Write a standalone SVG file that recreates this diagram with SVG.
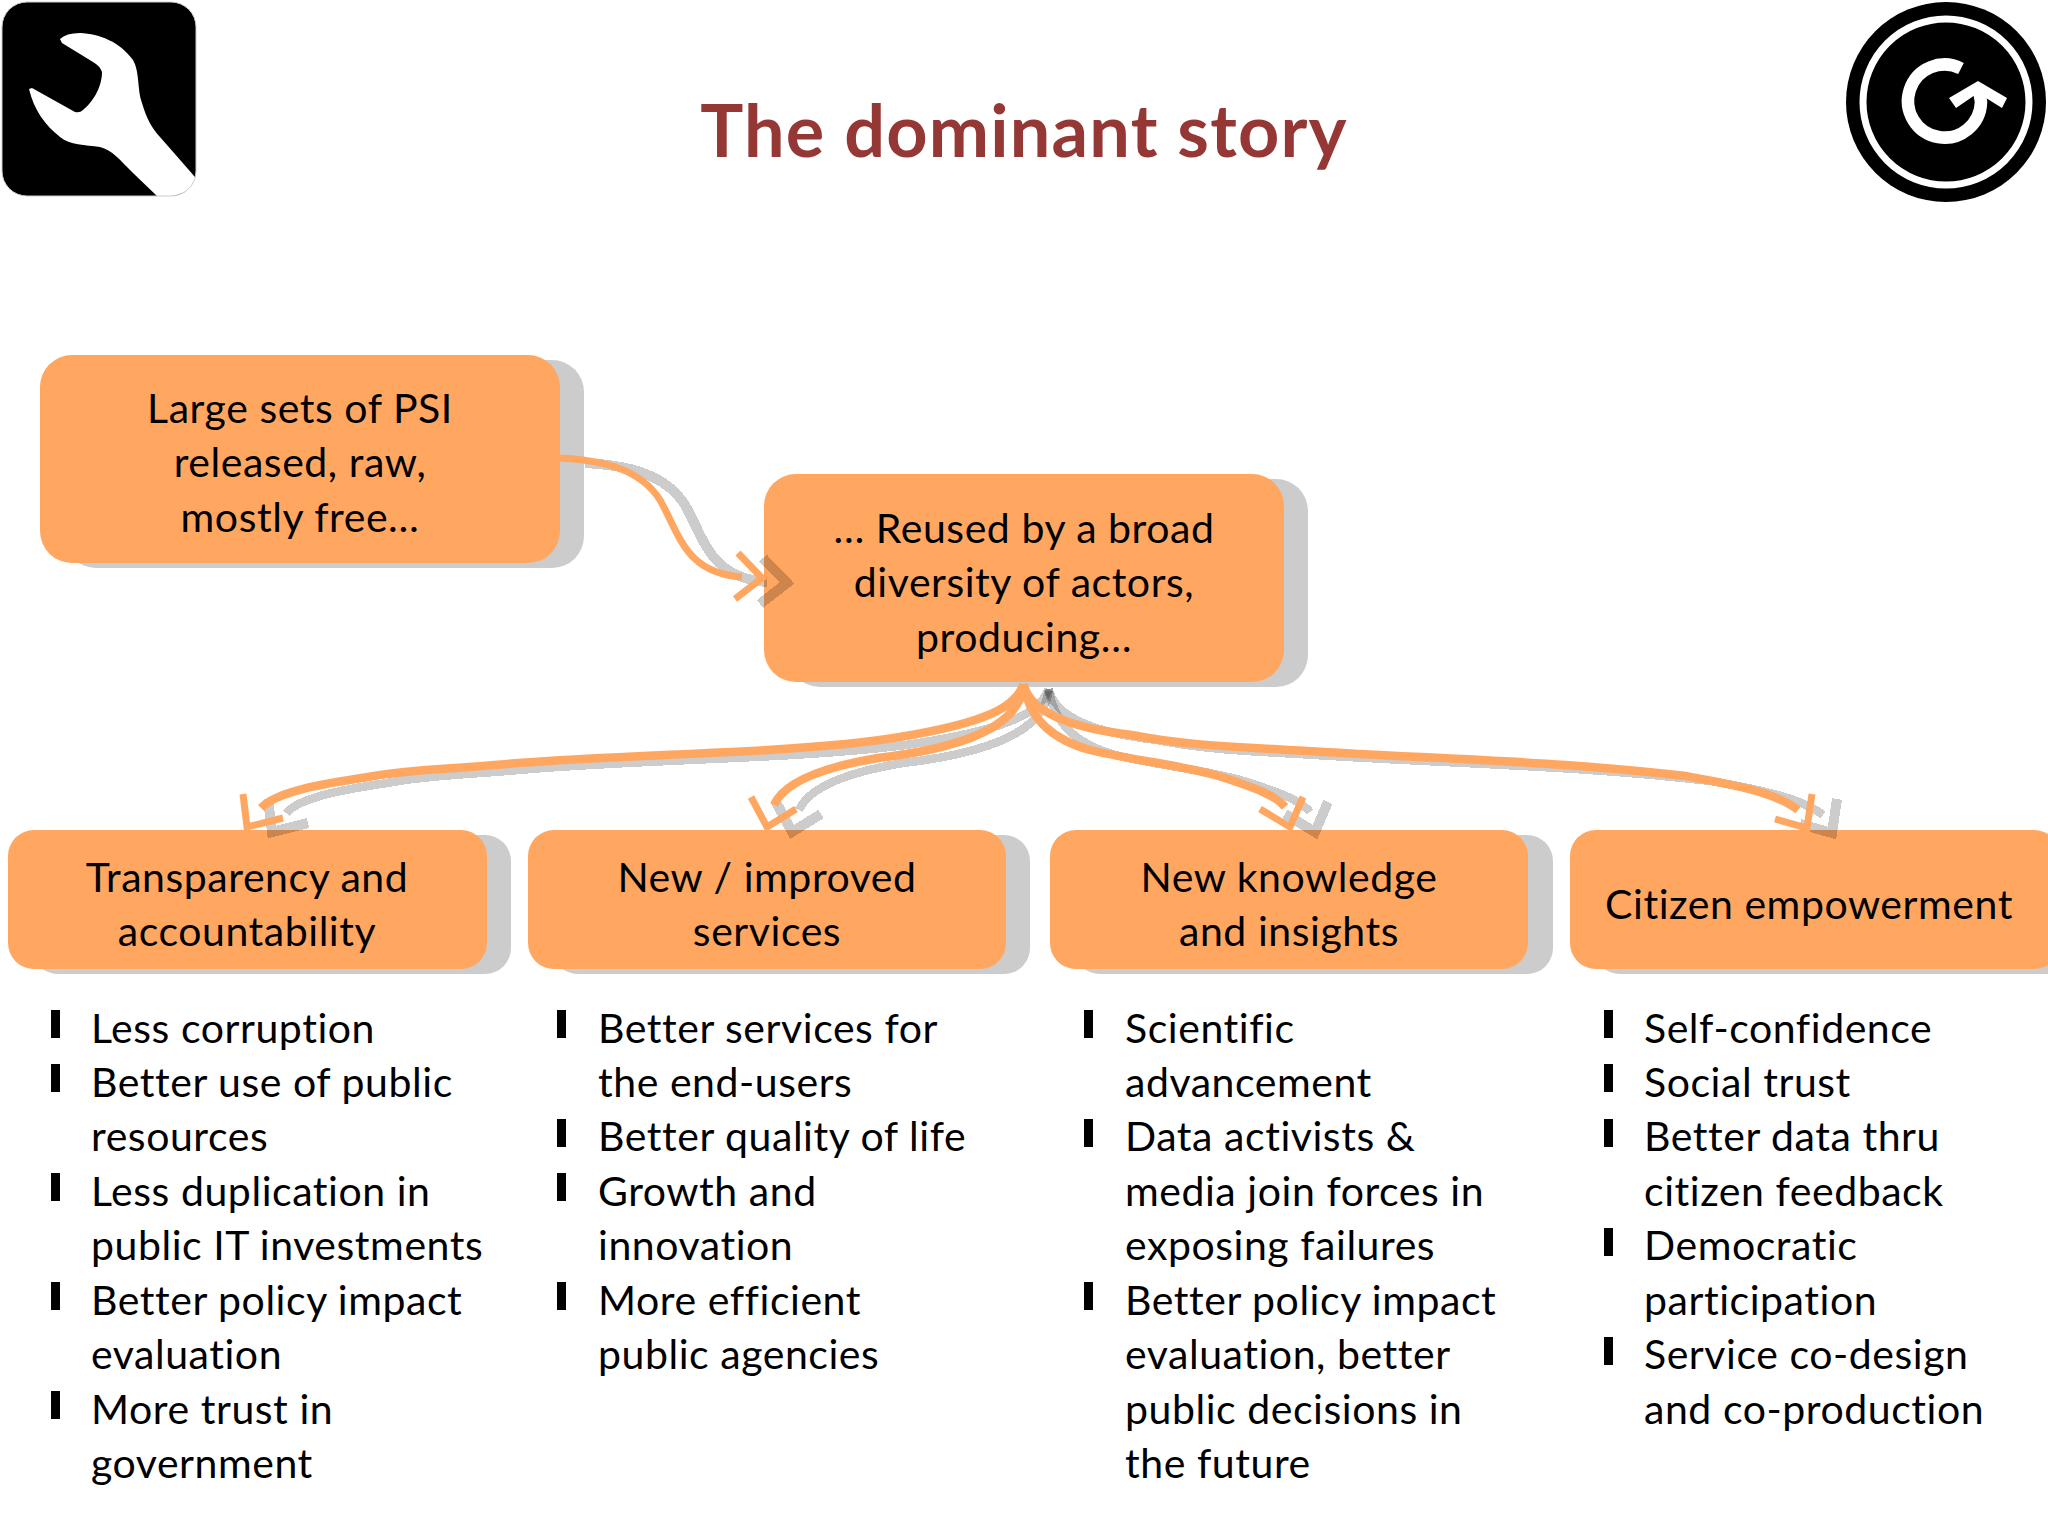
<svg xmlns="http://www.w3.org/2000/svg" width="2048" height="1536" viewBox="0 0 2048 1536">
<style>
text{font-family:"Lato","Carlito","Liberation Sans",sans-serif;font-size:41px;letter-spacing:.55px;fill:#000;transform:translateY(1px)}
.c{text-anchor:middle}
.t{font-size:72px;letter-spacing:1.2px;font-weight:700;fill:#953735}
.box{fill:#FFA761}
.sh{fill:#CCCCCC}
.bu{fill:#000}
.line{fill:none;stroke:#FFA761;stroke-width:7}
.thick{stroke-width:8.5}
.shadow{fill:none;stroke:#000;stroke-opacity:.2;stroke-width:10;shape-rendering:crispEdges}
</style>
<defs>
<g id="a1"><path d="M560 458C600 460 640 468 660 500C680 535 685 573 742 577"/><path d="M738 553L762 578L735 599"/></g>
<g id="a2"><path class="thick" d="M1023.5 684C1016 706 990 722 900 737C860 744 800 748 768 750C680 755 570 758 494 765C450 769 410 770 374 776C340 782 280 788 261 808"/><path d="M243 794L247 827L283 818"/></g>
<g id="a3"><path class="thick" d="M1023.5 686C1020 715 990 745 878 758C830 766 785 780 774 805"/><path d="M751 797L767 827L796 809"/></g>
<g id="a4"><path class="thick" d="M1023.5 684C1030 722 1055 740 1090 750C1130 760 1190 766 1225 778C1255 788 1275 795 1285 807"/><path d="M1260 809L1290 827L1303 797"/></g>
<g id="a5"><path class="thick" d="M1023.5 684C1030 712 1070 728 1132 735C1180 745 1240 747 1274 749C1380 756 1480 759 1565 765C1610 768 1650 772 1686 776C1730 784 1775 792 1798 810"/><path d="M1775 819L1807 828L1812 794"/></g>
</defs>

<g id="logo-wrench">
<rect x="2" y="2" width="194" height="194" rx="25" fill="#000"/>
<path fill="#fff" d="M60 39Q66 33 80 33C100 34 120 42 133 60C140 72 137 90 142 103C147 120 152 128 160 137L195 177L196 180Q192 192 172 196L157 196L133 173C120 160 112 150 100 147C85 145 70 145 60 137C45 125 34 110 29 89L32 88L75 112Q80 113 83 110C92 103 102 88 102 72Q100 66 93 62L62 43Z"/>
<rect x="2" y="2" width="194" height="194" rx="25" fill="none" stroke="#ccc" stroke-width="1"/>
</g>
<g id="logo-g">
<circle cx="1946" cy="102" r="100" fill="#000"/>
<circle cx="1946" cy="102" r="83" fill="none" stroke="#fff" stroke-width="7"/>
<path d="M1961 68.5A36.5 36.5 0 1 0 1981 102L1979 90" fill="none" stroke="#fff" stroke-width="12.5"/>
<path d="M1978 81L2007 98L2002 108L1978 93L1956 108L1949 98Z" fill="#fff"/>
</g>

<g id="title"><text class="c t" x="1024" y="155.5">The dominant story</text></g>

<g id="node-psi">
<rect class="sh" x="64" y="360" width="520" height="208" rx="32"/>
<rect class="box" x="40" y="355" width="520" height="208" rx="32"/>
<text class="c" x="300" y="422">Large sets of PSI</text>
<text class="c" x="300" y="476">released, raw,</text>
<text class="c" x="300" y="531">mostly free…</text>
</g>
<g id="node-reuse">
<rect class="sh" x="788" y="479" width="520" height="208" rx="32"/>
<rect class="box" x="764" y="474" width="520" height="208" rx="32"/>
<text class="c" x="1024" y="542">… Reused by a broad</text>
<text class="c" x="1024" y="596">diversity of actors,</text>
<text class="c" x="1024" y="651">producing…</text>
</g>
<g id="node-transparency">
<rect class="sh" x="32" y="835" width="479" height="139" rx="26"/>
<rect class="box" x="8" y="830" width="479" height="139" rx="26"/>
<text class="c" x="247" y="891">Transparency and</text>
<text class="c" x="247" y="945">accountability</text>
</g>
<g id="node-services">
<rect class="sh" x="552" y="835" width="478" height="139" rx="26"/>
<rect class="box" x="528" y="830" width="478" height="139" rx="26"/>
<text class="c" x="767" y="891">New / improved</text>
<text class="c" x="767" y="945">services</text>
</g>
<g id="node-knowledge">
<rect class="sh" x="1074" y="835" width="479" height="139" rx="26"/>
<rect class="box" x="1050" y="830" width="478" height="139" rx="26"/>
<text class="c" x="1289" y="891">New knowledge</text>
<text class="c" x="1289" y="945">and insights</text>
</g>
<g id="node-citizen">
<rect class="sh" x="1594" y="835" width="490" height="139" rx="26"/>
<rect class="box" x="1570" y="830" width="490" height="139" rx="26"/>
<text class="c" x="1809" y="918">Citizen empowerment</text>
</g>

<g id="connectors">
<g class="shadow" transform="translate(25 5)">
<use href="#a1"/><use href="#a2"/><use href="#a3"/><use href="#a4"/><use href="#a5"/>
</g>
<g class="line">
<use href="#a1"/><use href="#a2"/><use href="#a3"/><use href="#a4"/><use href="#a5"/>
</g>
</g>

<g id="list-transparency">
<rect class="bu" x="51" y="1010" width="9" height="28"/>
<rect class="bu" x="51" y="1064" width="9" height="28"/>
<rect class="bu" x="51" y="1173" width="9" height="28"/>
<rect class="bu" x="51" y="1282" width="9" height="28"/>
<rect class="bu" x="51" y="1391" width="9" height="28"/>
<text x="91" y="1042">Less corruption</text>
<text x="91" y="1096">Better use of public</text>
<text x="91" y="1150">resources</text>
<text x="91" y="1205">Less duplication in</text>
<text x="91" y="1259">public IT investments</text>
<text x="91" y="1314">Better policy impact</text>
<text x="91" y="1368">evaluation</text>
<text x="91" y="1423">More trust in</text>
<text x="91" y="1477">government</text>
</g>
<g id="list-services">
<rect class="bu" x="557" y="1010" width="9" height="28"/>
<rect class="bu" x="557" y="1119" width="9" height="28"/>
<rect class="bu" x="557" y="1173" width="9" height="28"/>
<rect class="bu" x="557" y="1282" width="9" height="28"/>
<text x="598" y="1042">Better services for</text>
<text x="598" y="1096">the end-users</text>
<text x="598" y="1150">Better quality of life</text>
<text x="598" y="1205">Growth and</text>
<text x="598" y="1259">innovation</text>
<text x="598" y="1314">More efficient</text>
<text x="598" y="1368">public agencies</text>
</g>
<g id="list-knowledge">
<rect class="bu" x="1084" y="1010" width="9" height="28"/>
<rect class="bu" x="1084" y="1119" width="9" height="28"/>
<rect class="bu" x="1084" y="1282" width="9" height="28"/>
<text x="1125" y="1042">Scientific</text>
<text x="1125" y="1096">advancement</text>
<text x="1125" y="1150">Data activists &amp;</text>
<text x="1125" y="1205">media join forces in</text>
<text x="1125" y="1259">exposing failures</text>
<text x="1125" y="1314">Better policy impact</text>
<text x="1125" y="1368">evaluation, better</text>
<text x="1125" y="1423">public decisions in</text>
<text x="1125" y="1477">the future</text>
</g>
<g id="list-citizen">
<rect class="bu" x="1604" y="1010" width="9" height="28"/>
<rect class="bu" x="1604" y="1064" width="9" height="28"/>
<rect class="bu" x="1604" y="1119" width="9" height="28"/>
<rect class="bu" x="1604" y="1228" width="9" height="28"/>
<rect class="bu" x="1604" y="1337" width="9" height="28"/>
<text x="1644" y="1042">Self-confidence</text>
<text x="1644" y="1096">Social trust</text>
<text x="1644" y="1150">Better data thru</text>
<text x="1644" y="1205">citizen feedback</text>
<text x="1644" y="1259">Democratic</text>
<text x="1644" y="1314">participation</text>
<text x="1644" y="1368">Service co-design</text>
<text x="1644" y="1423">and co-production</text>
</g>
</svg>
